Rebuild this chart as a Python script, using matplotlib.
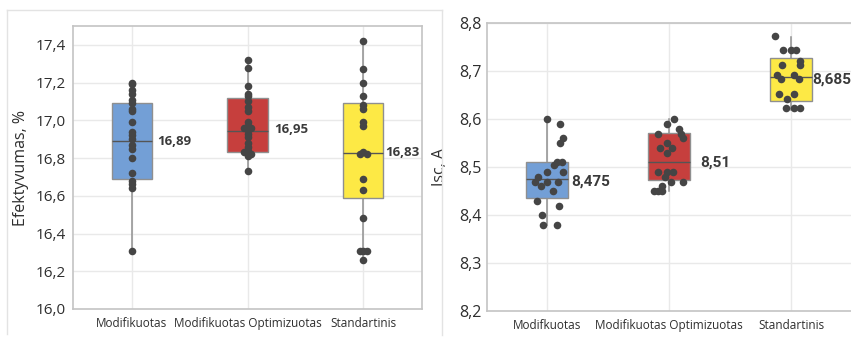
import matplotlib
matplotlib.use("Agg")
import matplotlib.pyplot as plt
from matplotlib.lines import Line2D
import numpy as np

# ---------------- data ----------------
left_categories = ["Modifikuotas", "Modifikuotas Optimizuotas", "Standartinis"]
right_categories = ["Modifkuotas", "Modifikuotas Optimizuotas", "Standartinis"]

# Left panel: efficiency, %
eff_mod = [17.20, 17.19, 17.16, 17.14, 17.11, 17.09, 17.06, 17.05, 16.99, 16.94,
           16.92, 16.90, 16.87, 16.85, 16.80, 16.72, 16.68, 16.66, 16.64, 16.31]
eff_mod_dx = [0] * len(eff_mod)
eff_opt = [17.32, 17.28, 17.18, 17.14, 17.13, 17.10, 17.07, 17.05, 16.99, 16.97,
           16.96, 16.96, 16.95, 16.93, 16.91, 16.88, 16.86, 16.84, 16.83, 16.82,
           16.82, 16.81, 16.73]
eff_opt_dx = [0, 0, 0, 0, 0, 0, 0, 0, 0, 0,
              -0.03, 0.03, 0, 0, 0, 0, 0, 0, -0.03, 0,
              0.03, 0, 0]
eff_std = [17.42, 17.27, 17.20, 17.13, 17.08, 17.06, 16.99, 16.97, 16.82, 16.83,
           16.82, 16.69, 16.63, 16.48, 16.31, 16.31, 16.31, 16.26]
eff_std_dx = [0, 0, 0, 0, 0, 0, 0, 0, -0.03, 0,
              0.03, 0, 0, 0, -0.03, 0, 0.03, 0]

eff_q1 = [16.69, 16.83, 16.59]
eff_med = [16.89, 16.945, 16.826]
eff_q3 = [17.09, 17.12, 17.09]
eff_wlo = [16.31, 16.73, 16.26]
eff_whi = [17.20, 17.32, 17.42]
eff_labels = ["16,89", "16,95", "16,83"]
eff_label_y = [16.89, 16.95, 16.83]

# Right panel: Isc, A
isc_mod = [8.60, 8.59, 8.56, 8.55, 8.51, 8.51, 8.505, 8.49, 8.49, 8.48,
           8.47, 8.47, 8.47, 8.46, 8.45, 8.43, 8.42, 8.40, 8.38, 8.38]
isc_mod_dx = [0.0, 0.11, 0.13, 0.11, 0.08, 0.12, 0.06, 0.0, 0.13, -0.07,
              -0.10, 0.0, 0.09, -0.05, 0.05, -0.08, 0.10, -0.04, -0.03, 0.08]
isc_opt = [8.60, 8.59, 8.58, 8.57, 8.57, 8.56, 8.55, 8.54, 8.54, 8.53,
           8.49, 8.49, 8.49, 8.48, 8.47, 8.47, 8.46, 8.45, 8.45, 8.45]
isc_opt_dx = [0.045, -0.014, 0.085, -0.093, 0.10, 0.112, -0.02, -0.074, 0.022, -0.014,
              -0.093, -0.02, 0.03, -0.033, 0.014, 0.118, -0.06, -0.12, -0.09, -0.06]
isc_std = [8.774, 8.744, 8.744, 8.744, 8.713, 8.722, 8.713, 8.692, 8.683, 8.692,
           8.683, 8.653, 8.653, 8.642, 8.623, 8.623, 8.623]
isc_std_dx = [-0.129, -0.066, 0.0, 0.044, -0.074, 0.071, 0.071, -0.115, -0.082, 0.022,
              0.063, -0.101, 0.027, -0.033, -0.038, 0.022, 0.077]

isc_q1 = [8.436, 8.4725, 8.638]
isc_med = [8.476, 8.5115, 8.687]
isc_q3 = [8.511, 8.5706, 8.728]
isc_wlo = [8.38, 8.45, 8.62]
isc_whi = [8.60, 8.60, 8.772]
isc_labels = ["8,475", "8,51", "8,685"]
isc_label_y = [8.470, 8.510, 8.683]

box_colors = ["#739fd6", "#c63f3d", "#fde945"]

# ---------------- style ----------------
plt.rcParams["font.family"] = ["Open Sans", "DejaVu Sans"]
TXT = "#2e2e2e"
GRID = "#e9e9e9"
SPINE = "#c4c4c4"
PT = "#454545"

W, H = 851, 337
fig = plt.figure(figsize=(W / 100, H / 100), dpi=100)

# faint screenshot frame
def fl(xs, ys):
    fig.add_artist(Line2D([x / W for x in xs], [1 - y / H for y in ys],
                          color="#e3e3e3", lw=1.0, transform=fig.transFigure))
fl([7, 442], [10, 10])
fl([7, 7], [10, 334])
fl([442, 442], [10, 335])


def draw(ax, q1, med, q3, wlo, whi, groups, labels, label_y, gaps, lfs, lfam):
    stats = []
    for i in range(3):
        stats.append(dict(med=med[i], q1=q1[i], q3=q3[i], whislo=wlo[i], whishi=whi[i], fliers=[]))
    bp = ax.bxp(stats, positions=range(3), widths=0.35, patch_artist=True,
                showfliers=False, showcaps=False, manage_ticks=False,
                boxprops=dict(edgecolor="#8f8f8f", linewidth=1.0),
                medianprops=dict(color="#555555", linewidth=1.0),
                whiskerprops=dict(color="#8f8f8f", linewidth=1.1))
    for patch, c in zip(bp["boxes"], box_colors):
        patch.set_facecolor(c)
        patch.set_zorder(2)
    for m in bp["medians"]:
        m.set_zorder(2.5)
    for w in bp["whiskers"]:
        w.set_zorder(1.5)
    for i, (vals, dx) in enumerate(groups):
        ax.scatter(np.array(dx) + i, vals, s=30, color=PT, zorder=3, linewidths=0)
    for i in range(3):
        ax.annotate(labels[i], (i + 0.175, label_y[i]), xytext=(gaps[i], 0),
                    textcoords="offset points", va="center", ha="left",
                    fontsize=lfs, color="#3a3a3a", fontweight="bold", zorder=4,
                    family=lfam)
    ax.grid(True, color=GRID, lw=1.0, zorder=0)
    ax.set_axisbelow(True)
    ax.set_xticks(range(3))
    ax.tick_params(axis="both", length=0, colors=TXT)
    for sp in ax.spines.values():
        sp.set_color(SPINE)
        sp.set_linewidth(1.2)


# Left panel
ax1 = fig.add_axes([73 / W, 1 - 309 / H, (422 - 73) / W, (309 - 26) / H])
draw(ax1, eff_q1, eff_med, eff_q3, eff_wlo, eff_whi,
     [(eff_mod, eff_mod_dx), (eff_opt, eff_opt_dx), (eff_std, eff_std_dx)],
     eff_labels, eff_label_y, [3.5, 4.5, 1.5], 9.5, ["Open Sans", "DejaVu Sans"])
ax1.set_xlim(-0.51, 2.51)
ax1.set_ylim(16.0, 17.5)
ax1.set_yticks(np.arange(16.0, 17.41, 0.2))
ax1.set_yticklabels([f"{v:.1f}".replace(".", ",") for v in np.arange(16.0, 17.41, 0.2)], fontsize=11)
ax1.set_xticklabels(left_categories, fontsize=8.5)
ax1.tick_params(axis="y", pad=5)
ax1.tick_params(axis="x", pad=6)
ax1.set_ylabel("Efektyvumas, %", fontsize=11.5, color=TXT)
ax1.yaxis.set_label_coords(-0.126, 0.5)

# Right panel
ax2 = fig.add_axes([487 / W, 1 - 311 / H, (851 - 487) / W, (311 - 23.3) / H])
draw(ax2, isc_q1, isc_med, isc_q3, isc_wlo, isc_whi,
     [(isc_mod, isc_mod_dx), (isc_opt, isc_opt_dx), (isc_std, isc_std_dx)],
     isc_labels, isc_label_y, [2.0, 7.0, 0.0], 11, ["Roboto", "DejaVu Sans"])
ax2.set_xlim(-0.492, 2.492)
ax2.set_ylim(8.2, 8.8)
ax2.set_yticks(np.arange(8.2, 8.81, 0.1))
ax2.set_yticklabels([f"{v:.1f}".replace(".", ",") for v in np.arange(8.2, 8.81, 0.1)], fontsize=11.5)
ax2.set_xticklabels(right_categories, fontsize=8.5)
ax2.tick_params(axis="y", pad=4)
ax2.tick_params(axis="x", pad=6)
ax2.spines["right"].set_visible(False)
ax2.set_ylabel("Isc, A", fontsize=11.5, color=TXT)
ax2.yaxis.set_label_coords(-0.107, 0.5)

fig.savefig("out.png", dpi=100)
